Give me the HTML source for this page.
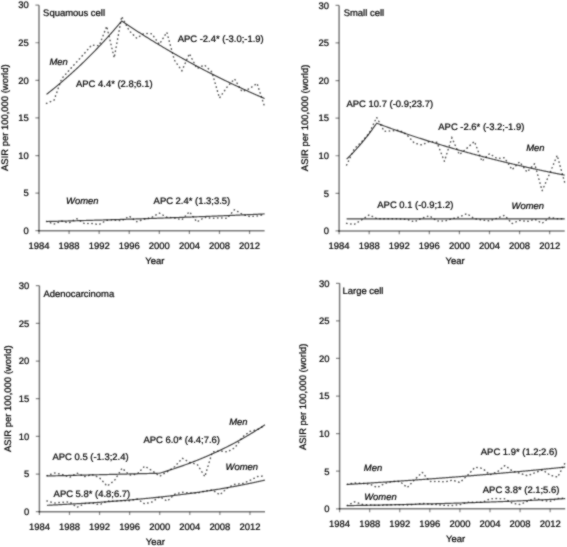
<!DOCTYPE html>
<html><head><meta charset="utf-8"><style>html,body{margin:0;padding:0;background:#fff;overflow:hidden}svg{display:block}</style></head>
<body>
<svg width="567" height="547" viewBox="0 0 567 547" font-family="&quot;Liberation Sans&quot;, sans-serif" font-size="9.45" fill="#000"><style>text{text-rendering:geometricPrecision;stroke:#000;stroke-width:0.22px}</style>
<defs><filter id="bl" x="0" y="0" width="100%" height="100%" color-interpolation-filters="sRGB"><feConvolveMatrix order="3" kernelMatrix="1 2 1 2 12 2 1 2 1" edgeMode="duplicate"/></filter></defs>
<rect width="567" height="547" fill="#fff"/><g filter="url(#bl)"><rect width="567" height="547" fill="#fff"/>
<path d="M39 5.19V231.45" fill="none" stroke="#000" stroke-opacity="0.52" stroke-width="1.5"/>
<path d="M38.25 230.7H264.6" fill="none" stroke="#000" stroke-opacity="0.52" stroke-width="1.5"/>
<path d="M35.4 230.7H39M35.4 193.11H39M35.4 155.53H39M35.4 117.94H39M35.4 80.36H39M35.4 42.77H39M35.4 5.19H39M39 230.7V234.1M69.08 230.7V234.1M99.16 230.7V234.1M129.24 230.7V234.1M159.32 230.7V234.1M189.4 230.7V234.1M219.48 230.7V234.1M249.56 230.7V234.1" fill="none" stroke="#000" stroke-opacity="0.45" stroke-width="1.2"/>
<text x="28.8" y="234" text-anchor="end">0</text>
<text x="28.8" y="196.41" text-anchor="end">5</text>
<text x="28.8" y="158.83" text-anchor="end">10</text>
<text x="28.8" y="121.24" text-anchor="end">15</text>
<text x="28.8" y="83.66" text-anchor="end">20</text>
<text x="28.8" y="46.07" text-anchor="end">25</text>
<text x="28.8" y="8.49" text-anchor="end">30</text>
<text x="39" y="249" text-anchor="middle">1984</text>
<text x="69.08" y="249" text-anchor="middle">1988</text>
<text x="99.16" y="249" text-anchor="middle">1992</text>
<text x="129.24" y="249" text-anchor="middle">1996</text>
<text x="159.32" y="249" text-anchor="middle">2000</text>
<text x="189.4" y="249" text-anchor="middle">2004</text>
<text x="219.48" y="249" text-anchor="middle">2008</text>
<text x="249.56" y="249" text-anchor="middle">2012</text>
<text x="154.9" y="263.9" text-anchor="middle">Year</text>
<text transform="translate(7.8,117.7) rotate(-90)" text-anchor="middle">ASIR per 100,000 (world)</text>
<text x="43.1" y="16.29">Squamous cell</text>
<path d="M46.52 103.36 54.04 100.13 61.56 78.86 69.08 70.36 76.6 62.02 84.12 53.67 91.64 45.03 99.16 45.78 106.68 26.24 114.2 57.81 121.72 16.47 129.24 30.75 136.76 38.26 144.28 33.38 151.8 33.75 159.32 44.28 166.84 32.25 174.36 60.06 181.88 70.74 189.4 53.6 196.92 68.56 204.44 64.95 211.96 72.09 219.48 98.02 227 87.13 234.52 78.86 242.04 91.64 249.56 88.63 257.08 83.37 264.6 106.67" fill="none" stroke="#000" stroke-opacity="0.65" stroke-width="1.5" stroke-linecap="round" stroke-dasharray="0.4 3.7"/>
<path d="M46.52 94.35 47.27 93.77 48.02 93.17 48.78 92.58 49.53 91.98 50.28 91.39 51.03 90.79 51.78 90.18 52.54 89.57 53.29 88.97 54.04 88.35 54.79 87.74 55.54 87.12 56.3 86.5 57.05 85.88 57.8 85.26 58.55 84.63 59.3 84 60.06 83.37 60.81 82.73 61.56 82.09 62.31 81.45 63.06 80.81 63.82 80.16 64.57 79.51 65.32 78.86 66.07 78.2 66.82 77.54 67.58 76.88 68.33 76.22 69.08 75.55 69.83 74.88 70.58 74.21 71.34 73.54 72.09 72.86 72.84 72.18 73.59 71.49 74.34 70.8 75.1 70.11 75.85 69.42 76.6 68.73 77.35 68.03 78.1 67.32 78.86 66.62 79.61 65.91 80.36 65.2 81.11 64.49 81.86 63.77 82.62 63.05 83.37 62.33 84.12 61.6 84.87 60.87 85.62 60.14 86.38 59.4 87.13 58.66 87.88 57.92 88.63 57.17 89.38 56.42 90.14 55.67 90.89 54.92 91.64 54.16 92.39 53.4 93.14 52.63 93.9 51.86 94.65 51.09 95.4 50.32 96.15 49.54 96.9 48.76 97.66 47.97 98.41 47.18 99.16 46.39 99.91 45.6 100.66 44.8 101.42 43.99 102.17 43.19 102.92 42.38 103.67 41.57 104.42 40.75 105.18 39.93 105.93 39.11 106.68 38.28 107.43 37.45 108.18 36.62 108.94 35.78 109.69 34.94 110.44 34.09 111.19 33.25 111.94 32.39 112.7 31.54 113.45 30.68 114.2 29.81 114.95 28.95 115.7 28.08 116.46 27.2 117.21 26.32 117.96 25.44 118.71 24.56 119.46 23.67 120.22 22.77 120.97 21.88 121.72 20.98 122.47 21.48 123.22 21.99 123.98 22.5 124.73 23 125.48 23.51 126.23 24.01 126.98 24.51 127.74 25.01 128.49 25.51 129.24 26.01 129.99 26.51 130.74 27 131.5 27.5 132.25 27.99 133 28.48 133.75 28.97 134.5 29.46 135.26 29.95 136.01 30.44 136.76 30.92 137.51 31.41 138.26 31.89 139.02 32.37 139.77 32.85 140.52 33.33 141.27 33.81 142.02 34.29 142.78 34.77 143.53 35.24 144.28 35.72 145.03 36.19 145.78 36.66 146.54 37.13 147.29 37.6 148.04 38.07 148.79 38.54 149.54 39 150.3 39.47 151.05 39.93 151.8 40.4 152.55 40.86 153.3 41.32 154.06 41.78 154.81 42.24 155.56 42.69 156.31 43.15 157.06 43.6 157.82 44.06 158.57 44.51 159.32 44.96 160.07 45.41 160.82 45.86 161.58 46.31 162.33 46.76 163.08 47.21 163.83 47.65 164.58 48.09 165.34 48.54 166.09 48.98 166.84 49.42 167.59 49.86 168.34 50.3 169.1 50.74 169.85 51.17 170.6 51.61 171.35 52.04 172.1 52.48 172.86 52.91 173.61 53.34 174.36 53.77 175.11 54.2 175.86 54.63 176.62 55.06 177.37 55.48 178.12 55.91 178.87 56.33 179.62 56.75 180.38 57.18 181.13 57.6 181.88 58.02 182.63 58.44 183.38 58.85 184.14 59.27 184.89 59.69 185.64 60.1 186.39 60.52 187.14 60.93 187.9 61.34 188.65 61.75 189.4 62.16 190.15 62.57 190.9 62.98 191.66 63.39 192.41 63.79 193.16 64.2 193.91 64.6 194.66 65 195.42 65.41 196.17 65.81 196.92 66.21 197.67 66.61 198.42 67 199.18 67.4 199.93 67.8 200.68 68.19 201.43 68.59 202.18 68.98 202.94 69.37 203.69 69.76 204.44 70.16 205.19 70.54 205.94 70.93 206.7 71.32 207.45 71.71 208.2 72.09 208.95 72.48 209.7 72.86 210.46 73.24 211.21 73.63 211.96 74.01 212.71 74.39 213.46 74.77 214.22 75.15 214.97 75.52 215.72 75.9 216.47 76.28 217.22 76.65 217.98 77.02 218.73 77.4 219.48 77.77 220.23 78.14 220.98 78.51 221.74 78.88 222.49 79.25 223.24 79.62 223.99 79.98 224.74 80.35 225.5 80.71 226.25 81.08 227 81.44 227.75 81.8 228.5 82.16 229.26 82.52 230.01 82.88 230.76 83.24 231.51 83.6 232.26 83.96 233.02 84.31 233.77 84.67 234.52 85.02 235.27 85.37 236.02 85.73 236.78 86.08 237.53 86.43 238.28 86.78 239.03 87.13 239.78 87.48 240.54 87.83 241.29 88.17 242.04 88.52 242.79 88.86 243.54 89.21 244.3 89.55 245.05 89.89 245.8 90.23 246.55 90.57 247.3 90.91 248.06 91.25 248.81 91.59 249.56 91.93 250.31 92.27 251.06 92.6 251.82 92.94 252.57 93.27 253.32 93.61 254.07 93.94 254.82 94.27 255.58 94.6 256.33 94.93 257.08 95.26 257.83 95.59 258.58 95.92 259.34 96.24 260.09 96.57 260.84 96.9 261.59 97.22 262.34 97.54 263.1 97.87 263.85 98.19 264.6 98.51" fill="none" stroke="#000" stroke-opacity="0.74" stroke-width="1.2"/>
<path d="M46.52 221.38 54.04 224.09 61.56 221 69.08 222.88 76.6 218.6 84.12 223.48 91.64 223.48 99.16 224.54 106.68 220.18 114.2 220.03 121.72 220.78 129.24 216.12 136.76 221.68 144.28 219.2 151.8 217.32 159.32 213.04 166.84 217.32 174.36 217.92 181.88 219.8 189.4 211.68 196.92 221.98 204.44 217.32 211.96 218.3 219.48 217.77 227 218.37 234.52 209.65 242.04 214.16 249.56 216.49 257.08 215.97 264.6 214.39" fill="none" stroke="#000" stroke-opacity="0.65" stroke-width="1.5" stroke-linecap="round" stroke-dasharray="0.4 3.7"/>
<path d="M46.52 221.53 47.27 221.51 48.02 221.49 48.78 221.47 49.53 221.45 50.28 221.43 51.03 221.41 51.78 221.39 52.54 221.38 53.29 221.36 54.04 221.34 54.79 221.32 55.54 221.3 56.3 221.28 57.05 221.26 57.8 221.24 58.55 221.22 59.3 221.2 60.06 221.18 60.81 221.16 61.56 221.14 62.31 221.12 63.06 221.1 63.82 221.08 64.57 221.06 65.32 221.04 66.07 221.02 66.82 221 67.58 220.98 68.33 220.96 69.08 220.94 69.83 220.92 70.58 220.9 71.34 220.88 72.09 220.86 72.84 220.84 73.59 220.82 74.34 220.8 75.1 220.78 75.85 220.75 76.6 220.73 77.35 220.71 78.1 220.69 78.86 220.67 79.61 220.65 80.36 220.63 81.11 220.61 81.86 220.59 82.62 220.57 83.37 220.55 84.12 220.52 84.87 220.5 85.62 220.48 86.38 220.46 87.13 220.44 87.88 220.42 88.63 220.4 89.38 220.37 90.14 220.35 90.89 220.33 91.64 220.31 92.39 220.29 93.14 220.27 93.9 220.25 94.65 220.22 95.4 220.2 96.15 220.18 96.9 220.16 97.66 220.14 98.41 220.11 99.16 220.09 99.91 220.07 100.66 220.05 101.42 220.03 102.17 220 102.92 219.98 103.67 219.96 104.42 219.94 105.18 219.91 105.93 219.89 106.68 219.87 107.43 219.85 108.18 219.82 108.94 219.8 109.69 219.78 110.44 219.76 111.19 219.73 111.94 219.71 112.7 219.69 113.45 219.66 114.2 219.64 114.95 219.62 115.7 219.6 116.46 219.57 117.21 219.55 117.96 219.53 118.71 219.5 119.46 219.48 120.22 219.46 120.97 219.43 121.72 219.41 122.47 219.39 123.22 219.36 123.98 219.34 124.73 219.31 125.48 219.29 126.23 219.27 126.98 219.24 127.74 219.22 128.49 219.2 129.24 219.17 129.99 219.15 130.74 219.12 131.5 219.1 132.25 219.08 133 219.05 133.75 219.03 134.5 219 135.26 218.98 136.01 218.95 136.76 218.93 137.51 218.9 138.26 218.88 139.02 218.86 139.77 218.83 140.52 218.81 141.27 218.78 142.02 218.76 142.78 218.73 143.53 218.71 144.28 218.68 145.03 218.66 145.78 218.63 146.54 218.61 147.29 218.58 148.04 218.56 148.79 218.53 149.54 218.51 150.3 218.48 151.05 218.46 151.8 218.43 152.55 218.4 153.3 218.38 154.06 218.35 154.81 218.33 155.56 218.3 156.31 218.28 157.06 218.25 157.82 218.22 158.57 218.2 159.32 218.17 160.07 218.15 160.82 218.12 161.58 218.09 162.33 218.07 163.08 218.04 163.83 218.01 164.58 217.99 165.34 217.96 166.09 217.93 166.84 217.91 167.59 217.88 168.34 217.86 169.1 217.83 169.85 217.8 170.6 217.77 171.35 217.75 172.1 217.72 172.86 217.69 173.61 217.67 174.36 217.64 175.11 217.61 175.86 217.59 176.62 217.56 177.37 217.53 178.12 217.5 178.87 217.48 179.62 217.45 180.38 217.42 181.13 217.39 181.88 217.37 182.63 217.34 183.38 217.31 184.14 217.28 184.89 217.25 185.64 217.23 186.39 217.2 187.14 217.17 187.9 217.14 188.65 217.11 189.4 217.08 190.15 217.06 190.9 217.03 191.66 217 192.41 216.97 193.16 216.94 193.91 216.91 194.66 216.89 195.42 216.86 196.17 216.83 196.92 216.8 197.67 216.77 198.42 216.74 199.18 216.71 199.93 216.68 200.68 216.65 201.43 216.62 202.18 216.59 202.94 216.57 203.69 216.54 204.44 216.51 205.19 216.48 205.94 216.45 206.7 216.42 207.45 216.39 208.2 216.36 208.95 216.33 209.7 216.3 210.46 216.27 211.21 216.24 211.96 216.21 212.71 216.18 213.46 216.15 214.22 216.12 214.97 216.09 215.72 216.06 216.47 216.03 217.22 216 217.98 215.97 218.73 215.93 219.48 215.9 220.23 215.87 220.98 215.84 221.74 215.81 222.49 215.78 223.24 215.75 223.99 215.72 224.74 215.69 225.5 215.66 226.25 215.62 227 215.59 227.75 215.56 228.5 215.53 229.26 215.5 230.01 215.47 230.76 215.43 231.51 215.4 232.26 215.37 233.02 215.34 233.77 215.31 234.52 215.28 235.27 215.24 236.02 215.21 236.78 215.18 237.53 215.15 238.28 215.11 239.03 215.08 239.78 215.05 240.54 215.02 241.29 214.98 242.04 214.95 242.79 214.92 243.54 214.89 244.3 214.85 245.05 214.82 245.8 214.79 246.55 214.75 247.3 214.72 248.06 214.69 248.81 214.65 249.56 214.62 250.31 214.59 251.06 214.55 251.82 214.52 252.57 214.49 253.32 214.45 254.07 214.42 254.82 214.38 255.58 214.35 256.33 214.32 257.08 214.28 257.83 214.25 258.58 214.21 259.34 214.18 260.09 214.14 260.84 214.11 261.59 214.08 262.34 214.04 263.1 214.01 263.85 213.97 264.6 213.94" fill="none" stroke="#000" stroke-opacity="0.74" stroke-width="1.2"/>
<path d="M339.1 5.39V231.65" fill="none" stroke="#000" stroke-opacity="0.52" stroke-width="1.5"/>
<path d="M338.35 230.9H564.7" fill="none" stroke="#000" stroke-opacity="0.52" stroke-width="1.5"/>
<path d="M335.5 230.9H339.1M335.5 193.31H339.1M335.5 155.73H339.1M335.5 118.14H339.1M335.5 80.56H339.1M335.5 42.97H339.1M335.5 5.39H339.1M339.1 230.9V234.3M369.18 230.9V234.3M399.26 230.9V234.3M429.34 230.9V234.3M459.42 230.9V234.3M489.5 230.9V234.3M519.58 230.9V234.3M549.66 230.9V234.3" fill="none" stroke="#000" stroke-opacity="0.45" stroke-width="1.2"/>
<text x="328.9" y="234.2" text-anchor="end">0</text>
<text x="328.9" y="196.62" text-anchor="end">5</text>
<text x="328.9" y="159.03" text-anchor="end">10</text>
<text x="328.9" y="121.44" text-anchor="end">15</text>
<text x="328.9" y="83.86" text-anchor="end">20</text>
<text x="328.9" y="46.27" text-anchor="end">25</text>
<text x="328.9" y="8.69" text-anchor="end">30</text>
<text x="339.1" y="249.2" text-anchor="middle">1984</text>
<text x="369.18" y="249.2" text-anchor="middle">1988</text>
<text x="399.26" y="249.2" text-anchor="middle">1992</text>
<text x="429.34" y="249.2" text-anchor="middle">1996</text>
<text x="459.42" y="249.2" text-anchor="middle">2000</text>
<text x="489.5" y="249.2" text-anchor="middle">2004</text>
<text x="519.58" y="249.2" text-anchor="middle">2008</text>
<text x="549.66" y="249.2" text-anchor="middle">2012</text>
<text x="455" y="264.1" text-anchor="middle">Year</text>
<text transform="translate(307.8,117.9) rotate(-90)" text-anchor="middle">ASIR per 100,000 (world)</text>
<text x="343.7" y="16.49">Small cell</text>
<path d="M346.62 165.05 354.14 148.96 361.66 141.82 369.18 133.18 376.7 117.39 384.22 131.3 391.74 130.92 399.26 130.17 406.78 134.68 414.3 143.1 421.82 144.98 429.34 141.45 436.86 142.2 444.38 161.22 451.9 137.84 459.42 154.6 466.94 148.21 474.46 141.45 481.98 161.22 489.5 153.7 497.02 158.51 504.54 157.76 512.06 169.71 519.58 161.82 527.1 172.04 534.62 163.7 542.14 190.68 549.66 173.55 557.18 155.35 564.7 182.49" fill="none" stroke="#000" stroke-opacity="0.65" stroke-width="1.5" stroke-linecap="round" stroke-dasharray="0.4 3.7"/>
<path d="M346.62 159.17 347.37 158.44 348.12 157.7 348.88 156.95 349.63 156.19 350.38 155.43 351.13 154.66 351.88 153.88 352.64 153.09 353.39 152.3 354.14 151.49 354.89 150.68 355.64 149.86 356.4 149.04 357.15 148.2 357.9 147.35 358.65 146.5 359.4 145.64 360.16 144.77 360.91 143.89 361.66 143 362.41 142.1 363.16 141.19 363.92 140.28 364.67 139.35 365.42 138.42 366.17 137.47 366.92 136.52 367.68 135.55 368.43 134.58 369.18 133.59 369.93 132.6 370.68 131.59 371.44 130.58 372.19 129.56 372.94 128.52 373.69 127.47 374.44 126.42 375.2 125.35 375.95 124.27 376.7 123.18 377.45 123.46 378.2 123.75 378.96 124.03 379.71 124.31 380.46 124.59 381.21 124.87 381.96 125.15 382.72 125.43 383.47 125.71 384.22 125.98 384.97 126.26 385.72 126.53 386.48 126.81 387.23 127.08 387.98 127.35 388.73 127.63 389.48 127.9 390.24 128.17 390.99 128.44 391.74 128.71 392.49 128.98 393.24 129.25 394 129.51 394.75 129.78 395.5 130.05 396.25 130.31 397 130.58 397.76 130.84 398.51 131.1 399.26 131.37 400.01 131.63 400.76 131.89 401.52 132.15 402.27 132.41 403.02 132.67 403.77 132.93 404.52 133.19 405.28 133.44 406.03 133.7 406.78 133.95 407.53 134.21 408.28 134.46 409.04 134.72 409.79 134.97 410.54 135.22 411.29 135.48 412.04 135.73 412.8 135.98 413.55 136.23 414.3 136.48 415.05 136.72 415.8 136.97 416.56 137.22 417.31 137.47 418.06 137.71 418.81 137.96 419.56 138.2 420.32 138.44 421.07 138.69 421.82 138.93 422.57 139.17 423.32 139.41 424.08 139.65 424.83 139.89 425.58 140.13 426.33 140.37 427.08 140.61 427.84 140.85 428.59 141.09 429.34 141.32 430.09 141.56 430.84 141.79 431.6 142.03 432.35 142.26 433.1 142.49 433.85 142.73 434.6 142.96 435.36 143.19 436.11 143.42 436.86 143.65 437.61 143.88 438.36 144.11 439.12 144.34 439.87 144.57 440.62 144.79 441.37 145.02 442.12 145.24 442.88 145.47 443.63 145.69 444.38 145.92 445.13 146.14 445.88 146.37 446.64 146.59 447.39 146.81 448.14 147.03 448.89 147.25 449.64 147.47 450.4 147.69 451.15 147.91 451.9 148.13 452.65 148.35 453.4 148.56 454.16 148.78 454.91 149 455.66 149.21 456.41 149.43 457.16 149.64 457.92 149.85 458.67 150.07 459.42 150.28 460.17 150.49 460.92 150.7 461.68 150.92 462.43 151.13 463.18 151.34 463.93 151.54 464.68 151.75 465.44 151.96 466.19 152.17 466.94 152.38 467.69 152.58 468.44 152.79 469.2 152.99 469.95 153.2 470.7 153.4 471.45 153.61 472.2 153.81 472.96 154.01 473.71 154.22 474.46 154.42 475.21 154.62 475.96 154.82 476.72 155.02 477.47 155.22 478.22 155.42 478.97 155.62 479.72 155.82 480.48 156.01 481.23 156.21 481.98 156.41 482.73 156.6 483.48 156.8 484.24 156.99 484.99 157.19 485.74 157.38 486.49 157.58 487.24 157.77 488 157.96 488.75 158.15 489.5 158.34 490.25 158.53 491 158.72 491.76 158.91 492.51 159.1 493.26 159.29 494.01 159.48 494.76 159.67 495.52 159.86 496.27 160.04 497.02 160.23 497.77 160.42 498.52 160.6 499.28 160.79 500.03 160.97 500.78 161.15 501.53 161.34 502.28 161.52 503.04 161.7 503.79 161.89 504.54 162.07 505.29 162.25 506.04 162.43 506.8 162.61 507.55 162.79 508.3 162.97 509.05 163.15 509.8 163.33 510.56 163.5 511.31 163.68 512.06 163.86 512.81 164.03 513.56 164.21 514.32 164.38 515.07 164.56 515.82 164.73 516.57 164.91 517.32 165.08 518.08 165.26 518.83 165.43 519.58 165.6 520.33 165.77 521.08 165.94 521.84 166.11 522.59 166.28 523.34 166.45 524.09 166.62 524.84 166.79 525.6 166.96 526.35 167.13 527.1 167.3 527.85 167.47 528.6 167.63 529.36 167.8 530.11 167.96 530.86 168.13 531.61 168.3 532.36 168.46 533.12 168.62 533.87 168.79 534.62 168.95 535.37 169.11 536.12 169.28 536.88 169.44 537.63 169.6 538.38 169.76 539.13 169.92 539.88 170.08 540.64 170.24 541.39 170.4 542.14 170.56 542.89 170.72 543.64 170.88 544.4 171.04 545.15 171.19 545.9 171.35 546.65 171.51 547.4 171.66 548.16 171.82 548.91 171.98 549.66 172.13 550.41 172.29 551.16 172.44 551.92 172.59 552.67 172.75 553.42 172.9 554.17 173.05 554.92 173.21 555.68 173.36 556.43 173.51 557.18 173.66 557.93 173.81 558.68 173.96 559.44 174.11 560.19 174.26 560.94 174.41 561.69 174.56 562.44 174.71 563.2 174.85 563.95 175 564.7 175.15" fill="none" stroke="#000" stroke-opacity="0.74" stroke-width="1.2"/>
<path d="M346.62 223.38 354.14 224.44 361.66 219.85 369.18 214.89 376.7 218.57 384.22 218.87 391.74 218.87 399.26 218.87 406.78 219.25 414.3 221.88 421.82 218.2 429.34 215.72 436.86 220.98 444.38 221.13 451.9 218.8 459.42 216.99 466.94 213.61 474.46 218.8 481.98 220 489.5 220.98 497.02 218.2 504.54 215.26 512.06 223.53 519.58 220.38 527.1 221.5 534.62 219.25 542.14 223.23 549.66 217.37 557.18 218.65 564.7 218.65" fill="none" stroke="#000" stroke-opacity="0.65" stroke-width="1.5" stroke-linecap="round" stroke-dasharray="0.4 3.7"/>
<path d="M346.62 218.87 347.37 218.87 348.12 218.87 348.88 218.87 349.63 218.87 350.38 218.87 351.13 218.87 351.88 218.87 352.64 218.87 353.39 218.87 354.14 218.87 354.89 218.87 355.64 218.87 356.4 218.87 357.15 218.87 357.9 218.87 358.65 218.87 359.4 218.87 360.16 218.87 360.91 218.87 361.66 218.87 362.41 218.87 363.16 218.87 363.92 218.87 364.67 218.87 365.42 218.87 366.17 218.87 366.92 218.87 367.68 218.87 368.43 218.87 369.18 218.87 369.93 218.87 370.68 218.87 371.44 218.87 372.19 218.87 372.94 218.87 373.69 218.87 374.44 218.87 375.2 218.87 375.95 218.87 376.7 218.87 377.45 218.87 378.2 218.87 378.96 218.87 379.71 218.87 380.46 218.87 381.21 218.87 381.96 218.87 382.72 218.87 383.47 218.87 384.22 218.87 384.97 218.87 385.72 218.87 386.48 218.87 387.23 218.87 387.98 218.87 388.73 218.87 389.48 218.87 390.24 218.87 390.99 218.87 391.74 218.87 392.49 218.87 393.24 218.87 394 218.87 394.75 218.87 395.5 218.87 396.25 218.87 397 218.87 397.76 218.87 398.51 218.87 399.26 218.87 400.01 218.87 400.76 218.87 401.52 218.87 402.27 218.87 403.02 218.87 403.77 218.87 404.52 218.87 405.28 218.87 406.03 218.87 406.78 218.87 407.53 218.87 408.28 218.87 409.04 218.87 409.79 218.87 410.54 218.87 411.29 218.87 412.04 218.87 412.8 218.87 413.55 218.87 414.3 218.87 415.05 218.87 415.8 218.87 416.56 218.87 417.31 218.87 418.06 218.87 418.81 218.87 419.56 218.87 420.32 218.87 421.07 218.87 421.82 218.87 422.57 218.87 423.32 218.87 424.08 218.87 424.83 218.87 425.58 218.87 426.33 218.87 427.08 218.87 427.84 218.87 428.59 218.87 429.34 218.87 430.09 218.87 430.84 218.87 431.6 218.87 432.35 218.87 433.1 218.87 433.85 218.87 434.6 218.87 435.36 218.87 436.11 218.87 436.86 218.87 437.61 218.87 438.36 218.87 439.12 218.87 439.87 218.87 440.62 218.87 441.37 218.87 442.12 218.87 442.88 218.87 443.63 218.87 444.38 218.87 445.13 218.87 445.88 218.87 446.64 218.87 447.39 218.87 448.14 218.87 448.89 218.87 449.64 218.87 450.4 218.87 451.15 218.87 451.9 218.87 452.65 218.87 453.4 218.87 454.16 218.87 454.91 218.87 455.66 218.87 456.41 218.87 457.16 218.87 457.92 218.87 458.67 218.87 459.42 218.87 460.17 218.87 460.92 218.87 461.68 218.87 462.43 218.87 463.18 218.87 463.93 218.87 464.68 218.87 465.44 218.87 466.19 218.87 466.94 218.87 467.69 218.87 468.44 218.87 469.2 218.87 469.95 218.87 470.7 218.87 471.45 218.87 472.2 218.87 472.96 218.87 473.71 218.87 474.46 218.87 475.21 218.87 475.96 218.87 476.72 218.87 477.47 218.87 478.22 218.87 478.97 218.87 479.72 218.87 480.48 218.87 481.23 218.87 481.98 218.87 482.73 218.87 483.48 218.87 484.24 218.87 484.99 218.87 485.74 218.87 486.49 218.87 487.24 218.87 488 218.87 488.75 218.87 489.5 218.87 490.25 218.87 491 218.87 491.76 218.87 492.51 218.87 493.26 218.87 494.01 218.87 494.76 218.87 495.52 218.87 496.27 218.87 497.02 218.87 497.77 218.87 498.52 218.87 499.28 218.87 500.03 218.87 500.78 218.87 501.53 218.87 502.28 218.87 503.04 218.87 503.79 218.87 504.54 218.87 505.29 218.87 506.04 218.87 506.8 218.87 507.55 218.87 508.3 218.87 509.05 218.87 509.8 218.87 510.56 218.87 511.31 218.87 512.06 218.87 512.81 218.87 513.56 218.87 514.32 218.87 515.07 218.87 515.82 218.87 516.57 218.87 517.32 218.87 518.08 218.87 518.83 218.87 519.58 218.87 520.33 218.87 521.08 218.87 521.84 218.87 522.59 218.87 523.34 218.87 524.09 218.87 524.84 218.87 525.6 218.87 526.35 218.87 527.1 218.87 527.85 218.87 528.6 218.87 529.36 218.87 530.11 218.87 530.86 218.87 531.61 218.87 532.36 218.87 533.12 218.87 533.87 218.87 534.62 218.87 535.37 218.87 536.12 218.87 536.88 218.87 537.63 218.87 538.38 218.87 539.13 218.87 539.88 218.87 540.64 218.87 541.39 218.87 542.14 218.87 542.89 218.87 543.64 218.87 544.4 218.87 545.15 218.87 545.9 218.87 546.65 218.87 547.4 218.87 548.16 218.87 548.91 218.87 549.66 218.87 550.41 218.87 551.16 218.87 551.92 218.87 552.67 218.87 553.42 218.87 554.17 218.87 554.92 218.87 555.68 218.87 556.43 218.87 557.18 218.87 557.93 218.87 558.68 218.87 559.44 218.87 560.19 218.87 560.94 218.87 561.69 218.87 562.44 218.87 563.2 218.87 563.95 218.87 564.7 218.87" fill="none" stroke="#000" stroke-opacity="0.74" stroke-width="1.2"/>
<path d="M39.4 285.71V512.45" fill="none" stroke="#000" stroke-opacity="0.52" stroke-width="1.5"/>
<path d="M38.65 511.7H265" fill="none" stroke="#000" stroke-opacity="0.52" stroke-width="1.5"/>
<path d="M35.8 511.7H39.4M35.8 474.03H39.4M35.8 436.37H39.4M35.8 398.7H39.4M35.8 361.04H39.4M35.8 323.38H39.4M35.8 285.71H39.4M39.4 511.7V515.1M69.48 511.7V515.1M99.56 511.7V515.1M129.64 511.7V515.1M159.72 511.7V515.1M189.8 511.7V515.1M219.88 511.7V515.1M249.96 511.7V515.1" fill="none" stroke="#000" stroke-opacity="0.45" stroke-width="1.2"/>
<text x="29.2" y="515" text-anchor="end">0</text>
<text x="29.2" y="477.33" text-anchor="end">5</text>
<text x="29.2" y="439.67" text-anchor="end">10</text>
<text x="29.2" y="402" text-anchor="end">15</text>
<text x="29.2" y="364.34" text-anchor="end">20</text>
<text x="29.2" y="326.68" text-anchor="end">25</text>
<text x="29.2" y="289.01" text-anchor="end">30</text>
<text x="39.4" y="530" text-anchor="middle">1984</text>
<text x="69.48" y="530" text-anchor="middle">1988</text>
<text x="99.56" y="530" text-anchor="middle">1992</text>
<text x="129.64" y="530" text-anchor="middle">1996</text>
<text x="159.72" y="530" text-anchor="middle">2000</text>
<text x="189.8" y="530" text-anchor="middle">2004</text>
<text x="219.88" y="530" text-anchor="middle">2008</text>
<text x="249.96" y="530" text-anchor="middle">2012</text>
<text x="155.3" y="544.9" text-anchor="middle">Year</text>
<text transform="translate(10.5,398.7) rotate(-90)" text-anchor="middle">ASIR per 100,000 (world)</text>
<text x="43.4" y="297.01">Adenocarcinoma</text>
<path d="M46.92 475.77 54.44 472.91 61.96 474.34 69.48 477.42 77 473.13 84.52 476.6 92.04 474.56 99.56 477.8 107.08 486.09 114.6 480.36 122.12 468.16 129.64 475.09 137.16 474.03 144.68 466.13 152.2 470.72 159.72 476.22 167.24 471.78 174.76 466.65 182.28 458.22 189.8 462.43 197.32 464.54 204.84 476.6 212.36 451.89 219.88 450.83 227.4 451.89 234.92 447.67 242.44 437.05 249.96 431.32 257.48 429.59 265 425.37" fill="none" stroke="#000" stroke-opacity="0.65" stroke-width="1.5" stroke-linecap="round" stroke-dasharray="0.4 3.7"/>
<path d="M46.92 475.98 47.67 475.96 48.42 475.95 49.18 475.93 49.93 475.91 50.68 475.89 51.43 475.87 52.18 475.86 52.94 475.84 53.69 475.82 54.44 475.8 55.19 475.78 55.94 475.77 56.7 475.75 57.45 475.73 58.2 475.71 58.95 475.69 59.7 475.68 60.46 475.66 61.21 475.64 61.96 475.62 62.71 475.61 63.46 475.59 64.22 475.57 64.97 475.55 65.72 475.53 66.47 475.51 67.22 475.5 67.98 475.48 68.73 475.46 69.48 475.44 70.23 475.42 70.98 475.41 71.74 475.39 72.49 475.37 73.24 475.35 73.99 475.33 74.74 475.32 75.5 475.3 76.25 475.28 77 475.26 77.75 475.24 78.5 475.22 79.26 475.21 80.01 475.19 80.76 475.17 81.51 475.15 82.26 475.13 83.02 475.12 83.77 475.1 84.52 475.08 85.27 475.06 86.02 475.04 86.78 475.02 87.53 475.01 88.28 474.99 89.03 474.97 89.78 474.95 90.54 474.93 91.29 474.91 92.04 474.9 92.79 474.88 93.54 474.86 94.3 474.84 95.05 474.82 95.8 474.8 96.55 474.79 97.3 474.77 98.06 474.75 98.81 474.73 99.56 474.71 100.31 474.69 101.06 474.68 101.82 474.66 102.57 474.64 103.32 474.62 104.07 474.6 104.82 474.58 105.58 474.56 106.33 474.55 107.08 474.53 107.83 474.51 108.58 474.49 109.34 474.47 110.09 474.45 110.84 474.43 111.59 474.42 112.34 474.4 113.1 474.38 113.85 474.36 114.6 474.34 115.35 474.32 116.1 474.3 116.86 474.29 117.61 474.27 118.36 474.25 119.11 474.23 119.86 474.21 120.62 474.19 121.37 474.17 122.12 474.15 122.87 474.14 123.62 474.12 124.38 474.1 125.13 474.08 125.88 474.06 126.63 474.04 127.38 474.02 128.14 474 128.89 473.99 129.64 473.97 130.39 473.95 131.14 473.93 131.9 473.91 132.65 473.89 133.4 473.87 134.15 473.85 134.9 473.83 135.66 473.82 136.41 473.8 137.16 473.78 137.91 473.76 138.66 473.74 139.42 473.72 140.17 473.7 140.92 473.68 141.67 473.66 142.42 473.65 143.18 473.63 143.93 473.61 144.68 473.59 145.43 473.57 146.18 473.55 146.94 473.53 147.69 473.51 148.44 473.49 149.19 473.47 149.94 473.46 150.7 473.44 151.45 473.42 152.2 473.4 152.95 473.38 153.7 473.36 154.46 473.34 155.21 473.32 155.96 473.3 156.71 473.28 157.46 473.26 158.22 473.24 158.97 473.23 159.72 473.21 160.47 472.98 161.22 472.76 161.98 472.53 162.73 472.3 163.48 472.07 164.23 471.84 164.98 471.6 165.74 471.37 166.49 471.13 167.24 470.9 167.99 470.66 168.74 470.42 169.5 470.18 170.25 469.93 171 469.69 171.75 469.44 172.5 469.2 173.26 468.95 174.01 468.7 174.76 468.45 175.51 468.2 176.26 467.94 177.02 467.69 177.77 467.43 178.52 467.17 179.27 466.91 180.02 466.65 180.78 466.38 181.53 466.12 182.28 465.85 183.03 465.59 183.78 465.32 184.54 465.04 185.29 464.77 186.04 464.5 186.79 464.22 187.54 463.94 188.3 463.67 189.05 463.39 189.8 463.1 190.55 462.82 191.3 462.53 192.06 462.25 192.81 461.96 193.56 461.67 194.31 461.37 195.06 461.08 195.82 460.78 196.57 460.49 197.32 460.19 198.07 459.89 198.82 459.58 199.58 459.28 200.33 458.97 201.08 458.66 201.83 458.35 202.58 458.04 203.34 457.73 204.09 457.41 204.84 457.1 205.59 456.78 206.34 456.46 207.1 456.13 207.85 455.81 208.6 455.48 209.35 455.15 210.1 454.82 210.86 454.49 211.61 454.16 212.36 453.82 213.11 453.48 213.86 453.14 214.62 452.8 215.37 452.45 216.12 452.11 216.87 451.76 217.62 451.41 218.38 451.06 219.13 450.7 219.88 450.35 220.63 449.99 221.38 449.63 222.14 449.27 222.89 448.9 223.64 448.53 224.39 448.16 225.14 447.79 225.9 447.42 226.65 447.04 227.4 446.67 228.15 446.29 228.9 445.9 229.66 445.52 230.41 445.13 231.16 444.74 231.91 444.35 232.66 443.96 233.42 443.56 234.17 443.16 234.92 442.76 235.67 442.36 236.42 441.96 237.18 441.55 237.93 441.14 238.68 440.73 239.43 440.31 240.18 439.89 240.94 439.47 241.69 439.05 242.44 438.63 243.19 438.2 243.94 437.77 244.7 437.34 245.45 436.9 246.2 436.47 246.95 436.03 247.7 435.59 248.46 435.14 249.21 434.69 249.96 434.24 250.71 433.79 251.46 433.34 252.22 432.88 252.97 432.42 253.72 431.95 254.47 431.49 255.22 431.02 255.98 430.55 256.73 430.07 257.48 429.6 258.23 429.12 258.98 428.63 259.74 428.15 260.49 427.66 261.24 427.17 261.99 426.67 262.74 426.18 263.5 425.68 264.25 425.18 265 424.67" fill="none" stroke="#000" stroke-opacity="0.74" stroke-width="1.2"/>
<path d="M46.92 500.93 54.44 503.04 61.96 502.28 69.48 501.91 77 507.33 84.52 503.64 92.04 503.04 99.56 504.77 107.08 501.15 114.6 501 122.12 500.7 129.64 500.7 137.16 498.89 144.68 503.87 152.2 501.91 159.72 496.63 167.24 501.15 174.76 494.22 182.28 492.11 189.8 493.09 197.32 493.09 204.84 490.98 212.36 489.93 219.88 494.83 227.4 487.82 234.92 484.2 242.44 483.6 249.96 480.44 257.48 476.6 265 475.77" fill="none" stroke="#000" stroke-opacity="0.65" stroke-width="1.5" stroke-linecap="round" stroke-dasharray="0.4 3.7"/>
<path d="M46.92 505.3 47.67 505.26 48.42 505.23 49.18 505.19 49.93 505.15 50.68 505.12 51.43 505.08 52.18 505.05 52.94 505.01 53.69 504.97 54.44 504.93 55.19 504.9 55.94 504.86 56.7 504.82 57.45 504.78 58.2 504.75 58.95 504.71 59.7 504.67 60.46 504.63 61.21 504.59 61.96 504.55 62.71 504.51 63.46 504.47 64.22 504.43 64.97 504.39 65.72 504.35 66.47 504.31 67.22 504.27 67.98 504.23 68.73 504.19 69.48 504.15 70.23 504.1 70.98 504.06 71.74 504.02 72.49 503.98 73.24 503.94 73.99 503.89 74.74 503.85 75.5 503.81 76.25 503.76 77 503.72 77.75 503.67 78.5 503.63 79.26 503.59 80.01 503.54 80.76 503.5 81.51 503.45 82.26 503.4 83.02 503.36 83.77 503.31 84.52 503.27 85.27 503.22 86.02 503.17 86.78 503.13 87.53 503.08 88.28 503.03 89.03 502.98 89.78 502.93 90.54 502.89 91.29 502.84 92.04 502.79 92.79 502.74 93.54 502.69 94.3 502.64 95.05 502.59 95.8 502.54 96.55 502.49 97.3 502.44 98.06 502.39 98.81 502.34 99.56 502.28 100.31 502.23 101.06 502.18 101.82 502.13 102.57 502.07 103.32 502.02 104.07 501.97 104.82 501.91 105.58 501.86 106.33 501.81 107.08 501.75 107.83 501.7 108.58 501.64 109.34 501.58 110.09 501.53 110.84 501.47 111.59 501.42 112.34 501.36 113.1 501.3 113.85 501.25 114.6 501.19 115.35 501.13 116.1 501.07 116.86 501.01 117.61 500.95 118.36 500.89 119.11 500.83 119.86 500.77 120.62 500.71 121.37 500.65 122.12 500.59 122.87 500.53 123.62 500.47 124.38 500.41 125.13 500.34 125.88 500.28 126.63 500.22 127.38 500.16 128.14 500.09 128.89 500.03 129.64 499.96 130.39 499.9 131.14 499.83 131.9 499.77 132.65 499.7 133.4 499.64 134.15 499.57 134.9 499.5 135.66 499.43 136.41 499.37 137.16 499.3 137.91 499.23 138.66 499.16 139.42 499.09 140.17 499.02 140.92 498.95 141.67 498.88 142.42 498.81 143.18 498.74 143.93 498.67 144.68 498.6 145.43 498.52 146.18 498.45 146.94 498.38 147.69 498.3 148.44 498.23 149.19 498.16 149.94 498.08 150.7 498.01 151.45 497.93 152.2 497.85 152.95 497.78 153.7 497.7 154.46 497.62 155.21 497.55 155.96 497.47 156.71 497.39 157.46 497.31 158.22 497.23 158.97 497.15 159.72 497.07 160.47 496.99 161.22 496.91 161.98 496.83 162.73 496.74 163.48 496.66 164.23 496.58 164.98 496.49 165.74 496.41 166.49 496.33 167.24 496.24 167.99 496.16 168.74 496.07 169.5 495.98 170.25 495.9 171 495.81 171.75 495.72 172.5 495.63 173.26 495.54 174.01 495.45 174.76 495.37 175.51 495.27 176.26 495.18 177.02 495.09 177.77 495 178.52 494.91 179.27 494.82 180.02 494.72 180.78 494.63 181.53 494.53 182.28 494.44 183.03 494.34 183.78 494.25 184.54 494.15 185.29 494.06 186.04 493.96 186.79 493.86 187.54 493.76 188.3 493.66 189.05 493.56 189.8 493.46 190.55 493.36 191.3 493.26 192.06 493.16 192.81 493.06 193.56 492.95 194.31 492.85 195.06 492.75 195.82 492.64 196.57 492.54 197.32 492.43 198.07 492.32 198.82 492.22 199.58 492.11 200.33 492 201.08 491.89 201.83 491.78 202.58 491.67 203.34 491.56 204.09 491.45 204.84 491.34 205.59 491.23 206.34 491.11 207.1 491 207.85 490.88 208.6 490.77 209.35 490.65 210.1 490.54 210.86 490.42 211.61 490.3 212.36 490.19 213.11 490.07 213.86 489.95 214.62 489.83 215.37 489.71 216.12 489.58 216.87 489.46 217.62 489.34 218.38 489.22 219.13 489.09 219.88 488.97 220.63 488.84 221.38 488.71 222.14 488.59 222.89 488.46 223.64 488.33 224.39 488.2 225.14 488.07 225.9 487.94 226.65 487.81 227.4 487.68 228.15 487.55 228.9 487.41 229.66 487.28 230.41 487.14 231.16 487.01 231.91 486.87 232.66 486.73 233.42 486.6 234.17 486.46 234.92 486.32 235.67 486.18 236.42 486.04 237.18 485.9 237.93 485.75 238.68 485.61 239.43 485.47 240.18 485.32 240.94 485.17 241.69 485.03 242.44 484.88 243.19 484.73 243.94 484.58 244.7 484.43 245.45 484.28 246.2 484.13 246.95 483.98 247.7 483.83 248.46 483.67 249.21 483.52 249.96 483.36 250.71 483.21 251.46 483.05 252.22 482.89 252.97 482.73 253.72 482.57 254.47 482.41 255.22 482.25 255.98 482.09 256.73 481.92 257.48 481.76 258.23 481.59 258.98 481.43 259.74 481.26 260.49 481.09 261.24 480.92 261.99 480.75 262.74 480.58 263.5 480.41 264.25 480.24 265 480.06" fill="none" stroke="#000" stroke-opacity="0.74" stroke-width="1.2"/>
<path d="M339.6 283.29V509.55" fill="none" stroke="#000" stroke-opacity="0.52" stroke-width="1.5"/>
<path d="M338.85 508.8H565.2" fill="none" stroke="#000" stroke-opacity="0.52" stroke-width="1.5"/>
<path d="M336 508.8H339.6M336 471.22H339.6M336 433.63H339.6M336 396.05H339.6M336 358.46H339.6M336 320.88H339.6M336 283.29H339.6M339.6 508.8V512.2M369.68 508.8V512.2M399.76 508.8V512.2M429.84 508.8V512.2M459.92 508.8V512.2M490 508.8V512.2M520.08 508.8V512.2M550.16 508.8V512.2" fill="none" stroke="#000" stroke-opacity="0.45" stroke-width="1.2"/>
<text x="329.4" y="512.1" text-anchor="end">0</text>
<text x="329.4" y="474.52" text-anchor="end">5</text>
<text x="329.4" y="436.93" text-anchor="end">10</text>
<text x="329.4" y="399.35" text-anchor="end">15</text>
<text x="329.4" y="361.76" text-anchor="end">20</text>
<text x="329.4" y="324.18" text-anchor="end">25</text>
<text x="329.4" y="286.59" text-anchor="end">30</text>
<text x="339.6" y="527.1" text-anchor="middle">1984</text>
<text x="369.68" y="527.1" text-anchor="middle">1988</text>
<text x="399.76" y="527.1" text-anchor="middle">1992</text>
<text x="429.84" y="527.1" text-anchor="middle">1996</text>
<text x="459.92" y="527.1" text-anchor="middle">2000</text>
<text x="490" y="527.1" text-anchor="middle">2004</text>
<text x="520.08" y="527.1" text-anchor="middle">2008</text>
<text x="550.16" y="527.1" text-anchor="middle">2012</text>
<text x="455.5" y="542" text-anchor="middle">Year</text>
<text transform="translate(306,396.8) rotate(-90)" text-anchor="middle">ASIR per 100,000 (world)</text>
<text x="342.5" y="294.09">Large cell</text>
<path d="M347.12 484.44 354.64 482.87 362.16 483.47 369.68 484.07 377.2 487.53 384.72 483.47 392.24 481.44 399.76 481.44 407.28 487.53 414.8 479.48 422.32 472.34 429.84 481.44 437.36 481.44 444.88 481.89 452.4 480.09 459.92 482.49 467.44 475.42 474.96 467.23 482.48 468.36 490 474.75 497.52 471.74 505.04 465.43 512.56 471.22 520.08 473.32 527.6 475.73 535.12 472.64 542.64 469.94 550.16 475.2 557.68 477.15 565.2 462.57" fill="none" stroke="#000" stroke-opacity="0.65" stroke-width="1.5" stroke-linecap="round" stroke-dasharray="0.4 3.7"/>
<path d="M347.12 484.44 347.87 484.4 348.62 484.35 349.38 484.31 350.13 484.26 350.88 484.22 351.63 484.17 352.38 484.13 353.14 484.08 353.89 484.03 354.64 483.99 355.39 483.94 356.14 483.9 356.9 483.85 357.65 483.8 358.4 483.76 359.15 483.71 359.9 483.66 360.66 483.62 361.41 483.57 362.16 483.52 362.91 483.48 363.66 483.43 364.42 483.38 365.17 483.34 365.92 483.29 366.67 483.24 367.42 483.19 368.18 483.15 368.93 483.1 369.68 483.05 370.43 483 371.18 482.95 371.94 482.91 372.69 482.86 373.44 482.81 374.19 482.76 374.94 482.71 375.7 482.67 376.45 482.62 377.2 482.57 377.95 482.52 378.7 482.47 379.46 482.42 380.21 482.37 380.96 482.32 381.71 482.27 382.46 482.23 383.22 482.18 383.97 482.13 384.72 482.08 385.47 482.03 386.22 481.98 386.98 481.93 387.73 481.88 388.48 481.83 389.23 481.78 389.98 481.73 390.74 481.68 391.49 481.63 392.24 481.58 392.99 481.53 393.74 481.47 394.5 481.42 395.25 481.37 396 481.32 396.75 481.27 397.5 481.22 398.26 481.17 399.01 481.12 399.76 481.07 400.51 481.01 401.26 480.96 402.02 480.91 402.77 480.86 403.52 480.81 404.27 480.76 405.02 480.7 405.78 480.65 406.53 480.6 407.28 480.55 408.03 480.49 408.78 480.44 409.54 480.39 410.29 480.34 411.04 480.28 411.79 480.23 412.54 480.18 413.3 480.12 414.05 480.07 414.8 480.02 415.55 479.96 416.3 479.91 417.06 479.86 417.81 479.8 418.56 479.75 419.31 479.69 420.06 479.64 420.82 479.59 421.57 479.53 422.32 479.48 423.07 479.42 423.82 479.37 424.58 479.31 425.33 479.26 426.08 479.2 426.83 479.15 427.58 479.09 428.34 479.04 429.09 478.98 429.84 478.93 430.59 478.87 431.34 478.82 432.1 478.76 432.85 478.71 433.6 478.65 434.35 478.59 435.1 478.54 435.86 478.48 436.61 478.43 437.36 478.37 438.11 478.31 438.86 478.26 439.62 478.2 440.37 478.14 441.12 478.09 441.87 478.03 442.62 477.97 443.38 477.91 444.13 477.86 444.88 477.8 445.63 477.74 446.38 477.68 447.14 477.63 447.89 477.57 448.64 477.51 449.39 477.45 450.14 477.39 450.9 477.34 451.65 477.28 452.4 477.22 453.15 477.16 453.9 477.1 454.66 477.04 455.41 476.98 456.16 476.92 456.91 476.86 457.66 476.81 458.42 476.75 459.17 476.69 459.92 476.63 460.67 476.57 461.42 476.51 462.18 476.45 462.93 476.39 463.68 476.33 464.43 476.27 465.18 476.21 465.94 476.15 466.69 476.08 467.44 476.02 468.19 475.96 468.94 475.9 469.7 475.84 470.45 475.78 471.2 475.72 471.95 475.66 472.7 475.6 473.46 475.53 474.21 475.47 474.96 475.41 475.71 475.35 476.46 475.29 477.22 475.22 477.97 475.16 478.72 475.1 479.47 475.04 480.22 474.97 480.98 474.91 481.73 474.85 482.48 474.78 483.23 474.72 483.98 474.66 484.74 474.59 485.49 474.53 486.24 474.47 486.99 474.4 487.74 474.34 488.5 474.28 489.25 474.21 490 474.15 490.75 474.08 491.5 474.02 492.26 473.95 493.01 473.89 493.76 473.82 494.51 473.76 495.26 473.69 496.02 473.63 496.77 473.56 497.52 473.5 498.27 473.43 499.02 473.37 499.78 473.3 500.53 473.24 501.28 473.17 502.03 473.1 502.78 473.04 503.54 472.97 504.29 472.9 505.04 472.84 505.79 472.77 506.54 472.7 507.3 472.64 508.05 472.57 508.8 472.5 509.55 472.43 510.3 472.37 511.06 472.3 511.81 472.23 512.56 472.16 513.31 472.1 514.06 472.03 514.82 471.96 515.57 471.89 516.32 471.82 517.07 471.75 517.82 471.68 518.58 471.62 519.33 471.55 520.08 471.48 520.83 471.41 521.58 471.34 522.34 471.27 523.09 471.2 523.84 471.13 524.59 471.06 525.34 470.99 526.1 470.92 526.85 470.85 527.6 470.78 528.35 470.71 529.1 470.64 529.86 470.57 530.61 470.49 531.36 470.42 532.11 470.35 532.86 470.28 533.62 470.21 534.37 470.14 535.12 470.07 535.87 469.99 536.62 469.92 537.38 469.85 538.13 469.78 538.88 469.7 539.63 469.63 540.38 469.56 541.14 469.49 541.89 469.41 542.64 469.34 543.39 469.27 544.14 469.19 544.9 469.12 545.65 469.05 546.4 468.97 547.15 468.9 547.9 468.82 548.66 468.75 549.41 468.68 550.16 468.6 550.91 468.53 551.66 468.45 552.42 468.38 553.17 468.3 553.92 468.23 554.67 468.15 555.42 468.08 556.18 468 556.93 467.92 557.68 467.85 558.43 467.77 559.18 467.7 559.94 467.62 560.69 467.54 561.44 467.47 562.19 467.39 562.94 467.31 563.7 467.24 564.45 467.16 565.2 467.08" fill="none" stroke="#000" stroke-opacity="0.74" stroke-width="1.2"/>
<path d="M347.12 505.57 354.64 501.81 362.16 504.36 369.68 505.04 377.2 505.42 384.72 505.04 392.24 504.67 399.76 504.67 407.28 505.04 414.8 504.29 422.32 503.39 429.84 504.29 437.36 504.67 444.88 505.42 452.4 505.42 459.92 504.67 467.44 502.34 474.96 502.34 482.48 502.34 490 498.8 497.52 498.58 505.04 498.8 512.56 503.39 520.08 504.44 527.6 501.28 535.12 498.13 542.64 500.53 550.16 501.28 557.68 498.58 565.2 498.13" fill="none" stroke="#000" stroke-opacity="0.65" stroke-width="1.5" stroke-linecap="round" stroke-dasharray="0.4 3.7"/>
<path d="M347.12 505.64 347.87 505.63 348.62 505.62 349.38 505.6 350.13 505.59 350.88 505.58 351.63 505.57 352.38 505.55 353.14 505.54 353.89 505.53 354.64 505.51 355.39 505.5 356.14 505.49 356.9 505.47 357.65 505.46 358.4 505.45 359.15 505.43 359.9 505.42 360.66 505.41 361.41 505.39 362.16 505.38 362.91 505.36 363.66 505.35 364.42 505.34 365.17 505.32 365.92 505.31 366.67 505.29 367.42 505.28 368.18 505.27 368.93 505.25 369.68 505.24 370.43 505.22 371.18 505.21 371.94 505.19 372.69 505.18 373.44 505.17 374.19 505.15 374.94 505.14 375.7 505.12 376.45 505.11 377.2 505.09 377.95 505.08 378.7 505.06 379.46 505.05 380.21 505.03 380.96 505.02 381.71 505 382.46 504.99 383.22 504.97 383.97 504.95 384.72 504.94 385.47 504.92 386.22 504.91 386.98 504.89 387.73 504.88 388.48 504.86 389.23 504.84 389.98 504.83 390.74 504.81 391.49 504.8 392.24 504.78 392.99 504.76 393.74 504.75 394.5 504.73 395.25 504.71 396 504.7 396.75 504.68 397.5 504.67 398.26 504.65 399.01 504.63 399.76 504.62 400.51 504.6 401.26 504.58 402.02 504.56 402.77 504.55 403.52 504.53 404.27 504.51 405.02 504.5 405.78 504.48 406.53 504.46 407.28 504.44 408.03 504.43 408.78 504.41 409.54 504.39 410.29 504.37 411.04 504.35 411.79 504.34 412.54 504.32 413.3 504.3 414.05 504.28 414.8 504.26 415.55 504.25 416.3 504.23 417.06 504.21 417.81 504.19 418.56 504.17 419.31 504.15 420.06 504.13 420.82 504.12 421.57 504.1 422.32 504.08 423.07 504.06 423.82 504.04 424.58 504.02 425.33 504 426.08 503.98 426.83 503.96 427.58 503.94 428.34 503.92 429.09 503.9 429.84 503.88 430.59 503.86 431.34 503.84 432.1 503.82 432.85 503.8 433.6 503.78 434.35 503.76 435.1 503.74 435.86 503.72 436.61 503.7 437.36 503.68 438.11 503.66 438.86 503.64 439.62 503.62 440.37 503.6 441.12 503.58 441.87 503.56 442.62 503.54 443.38 503.51 444.13 503.49 444.88 503.47 445.63 503.45 446.38 503.43 447.14 503.41 447.89 503.38 448.64 503.36 449.39 503.34 450.14 503.32 450.9 503.3 451.65 503.27 452.4 503.25 453.15 503.23 453.9 503.21 454.66 503.19 455.41 503.16 456.16 503.14 456.91 503.12 457.66 503.09 458.42 503.07 459.17 503.05 459.92 503.02 460.67 503 461.42 502.98 462.18 502.95 462.93 502.93 463.68 502.91 464.43 502.88 465.18 502.86 465.94 502.84 466.69 502.81 467.44 502.79 468.19 502.76 468.94 502.74 469.7 502.71 470.45 502.69 471.2 502.67 471.95 502.64 472.7 502.62 473.46 502.59 474.21 502.57 474.96 502.54 475.71 502.52 476.46 502.49 477.22 502.46 477.97 502.44 478.72 502.41 479.47 502.39 480.22 502.36 480.98 502.34 481.73 502.31 482.48 502.28 483.23 502.26 483.98 502.23 484.74 502.2 485.49 502.18 486.24 502.15 486.99 502.12 487.74 502.1 488.5 502.07 489.25 502.04 490 502.02 490.75 501.99 491.5 501.96 492.26 501.93 493.01 501.91 493.76 501.88 494.51 501.85 495.26 501.82 496.02 501.79 496.77 501.77 497.52 501.74 498.27 501.71 499.02 501.68 499.78 501.65 500.53 501.62 501.28 501.59 502.03 501.56 502.78 501.53 503.54 501.51 504.29 501.48 505.04 501.45 505.79 501.42 506.54 501.39 507.3 501.36 508.05 501.33 508.8 501.3 509.55 501.27 510.3 501.24 511.06 501.21 511.81 501.18 512.56 501.14 513.31 501.11 514.06 501.08 514.82 501.05 515.57 501.02 516.32 500.99 517.07 500.96 517.82 500.93 518.58 500.89 519.33 500.86 520.08 500.83 520.83 500.8 521.58 500.77 522.34 500.73 523.09 500.7 523.84 500.67 524.59 500.64 525.34 500.6 526.1 500.57 526.85 500.54 527.6 500.5 528.35 500.47 529.1 500.44 529.86 500.4 530.61 500.37 531.36 500.33 532.11 500.3 532.86 500.27 533.62 500.23 534.37 500.2 535.12 500.16 535.87 500.13 536.62 500.09 537.38 500.06 538.13 500.02 538.88 499.99 539.63 499.95 540.38 499.91 541.14 499.88 541.89 499.84 542.64 499.81 543.39 499.77 544.14 499.73 544.9 499.7 545.65 499.66 546.4 499.62 547.15 499.59 547.9 499.55 548.66 499.51 549.41 499.47 550.16 499.44 550.91 499.4 551.66 499.36 552.42 499.32 553.17 499.29 553.92 499.25 554.67 499.21 555.42 499.17 556.18 499.13 556.93 499.09 557.68 499.05 558.43 499.01 559.18 498.97 559.94 498.93 560.69 498.89 561.44 498.85 562.19 498.81 562.94 498.77 563.7 498.73 564.45 498.69 565.2 498.65" fill="none" stroke="#000" stroke-opacity="0.74" stroke-width="1.2"/>
<text x="49.5" y="65" font-style="italic">Men</text>
<text x="76" y="87">APC 4.4* (2.8;6.1)</text>
<text x="177.7" y="41.8">APC -2.4* (-3.0;-1.9)</text>
<text x="66" y="204" font-style="italic">Women</text>
<text x="153.6" y="204">APC 2.4* (1.3;3.5)</text>
<text x="346.5" y="106.8">APC 10.7 (-0.9;23.7)</text>
<text x="438.3" y="129.7">APC -2.6* (-3.2;-1.9)</text>
<text x="526.2" y="150.7" font-style="italic">Men</text>
<text x="377.3" y="208.2">APC 0.1 (-0.9;1.2)</text>
<text x="511.5" y="208.7" font-style="italic">Women</text>
<text x="52.5" y="460.1">APC 0.5 (-1.3;2.4)</text>
<text x="53.6" y="496.7">APC 5.8* (4.8;6.7)</text>
<text x="220" y="442.8" text-anchor="end">APC 6.0* (4.4;7.6)</text>
<text x="229.2" y="425" font-style="italic">Men</text>
<text x="225.6" y="469.8" font-style="italic">Women</text>
<text x="363.8" y="471.4" font-style="italic">Men</text>
<text x="364.2" y="499.5" font-style="italic">Women</text>
<text x="480.8" y="454.7">APC 1.9* (1.2;2.6)</text>
<text x="482.8" y="492.6">APC 3.8* (2.1;5.6)</text>
</g></svg>
</body></html>
